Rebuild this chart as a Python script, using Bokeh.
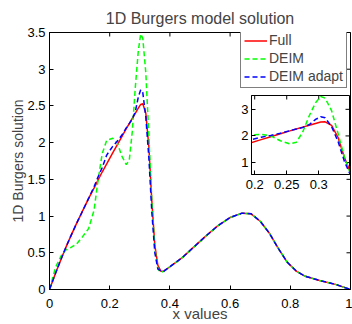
import math
from bokeh.plotting import figure
from bokeh.layouts import column
from bokeh.models import Range1d, LinearAxis, FixedTicker, Legend, LegendItem
from bokeh.embed import file_html
from bokeh.resources import INLINE

# ---------------- data ----------------
x_vals = [0, 0.02, 0.04, 0.055, 0.07, 0.09, 0.11, 0.13, 0.148, 0.16, 0.175,
          0.19, 0.21, 0.225, 0.24, 0.255, 0.265, 0.275, 0.285, 0.295, 0.303,
          0.31, 0.32, 0.33, 0.34, 0.35, 0.36, 0.37, 0.38, 0.40, 0.44, 0.48,
          0.52, 0.56, 0.60, 0.64, 0.67, 0.70, 0.73, 0.76, 0.79, 0.82, 0.85,
          0.90, 0.95, 1.0]
full = [0, 0.22, 0.43, 0.58, 0.72, 0.90, 1.07, 1.24, 1.38, 1.48, 1.60,
        1.71, 1.86, 1.97, 2.08, 2.19, 2.26, 2.33, 2.40, 2.47, 2.52,
        2.53, 2.40, 1.95, 1.20, 0.60, 0.33, 0.25, 0.25, 0.31, 0.43, 0.58,
        0.73, 0.87, 0.98, 1.04, 1.03, 0.93, 0.77, 0.56, 0.37, 0.25, 0.18,
        0.12, 0.07, 0.0]
deim = [0, 0.30, 0.47, 0.54, 0.57, 0.62, 0.72, 0.83, 1.08, 1.45, 1.85,
        2.03, 2.06, 2.00, 1.82, 1.70, 1.76, 2.15, 2.75, 3.25, 3.48,
        3.42, 2.95, 2.10, 1.20, 0.55, 0.28, 0.23, 0.25, 0.31, 0.43, 0.58,
        0.73, 0.87, 0.98, 1.04, 1.03, 0.93, 0.77, 0.56, 0.37, 0.25, 0.18,
        0.12, 0.07, 0.0]
deim_adapt = [0, 0.22, 0.43, 0.58, 0.72, 0.90, 1.07, 1.24, 1.40, 1.52, 1.66,
              1.83, 1.95, 2.02, 2.10, 2.20, 2.26, 2.32, 2.42, 2.62, 2.72,
              2.68, 2.35, 1.80, 1.05, 0.50, 0.28, 0.25, 0.25, 0.31, 0.43, 0.58,
              0.73, 0.87, 0.98, 1.04, 1.03, 0.93, 0.77, 0.56, 0.37, 0.25, 0.18,
              0.12, 0.07, 0.0]

main_xticks = [0, 0.2, 0.4, 0.6, 0.8, 1]
main_xlabels = ["0", "0.2", "0.4", "0.6", "0.8", "1"]
main_yticks = [0, 0.5, 1, 1.5, 2, 2.5, 3, 3.5]
main_ylabels = ["0", "0.5", "1", "1.5", "2", "2.5", "3", "3.5"]
inset_xticks = [0.2, 0.25, 0.3]
inset_xlabels = ["0.2", "0.25", "0.3"]
inset_yticks = [1, 2, 3]
inset_ylabels = ["1", "2", "3"]

series_names = ["Full", "DEIM", "DEIM adapt"]
series_colors = ["#ff0000", "#00ff00", "#0000ff"]
series_dash = ["solid", "5 3", "5 3"]
series_data = [full, deim, deim_adapt]

FONT = "Liberation Sans"


def style_axis(ax, ticks, labels, standoff):
    ax.ticker = FixedTicker(ticks=ticks)
    ax.major_label_overrides = {t: l for t, l in zip(ticks, labels)}
    ax.major_tick_in = 4
    ax.major_tick_out = 0
    ax.minor_tick_line_color = None
    ax.axis_line_color = "black"
    ax.major_tick_line_color = "black"
    ax.major_label_text_font = FONT
    ax.major_label_text_font_size = "13px"
    ax.major_label_text_color = "black"
    ax.major_label_standoff = standoff


def mirror_ticks(fig, xticks, yticks, xr, yr):
    # tick marks on top and right edges (outer half of each dash is clipped by the frame)
    fig.scatter(xticks, [yr.end] * len(xticks), marker="dash", angle=math.pi / 2,
                size=8, line_color="black", line_width=1)
    fig.scatter([xr.end] * len(yticks), yticks, marker="dash", size=8,
                line_color="black", line_width=1)


# ---------------- main figure ----------------
p = figure(width=352, height=324, x_range=Range1d(0, 1), y_range=Range1d(0, 3.5),
           output_backend="svg", toolbar_location=None,
           min_border_left=49, min_border_right=2, min_border_top=32,
           min_border_bottom=32, x_axis_location=None, y_axis_location=None)
p.frame_align = False
p.xgrid.visible = False
p.ygrid.visible = False
p.outline_line_color = "black"
p.outline_line_width = 1
p.background_fill_color = "white"
p.border_fill_color = "white"

p.title.text = "1D Burgers model solution"
p.title.text_font = FONT
p.title.text_font_size = "16px"
p.title.text_font_style = "normal"
p.title.align = "center"
p.title.standoff = 12

xax = LinearAxis()
style_axis(xax, main_xticks, main_xlabels, 9)
xax.axis_label = "x values"
xax.axis_label_text_font = FONT
xax.axis_label_text_font_size = "15px"
xax.axis_label_text_font_style = "normal"
xax.axis_label_standoff = -6
p.add_layout(xax, "below")

yax = LinearAxis()
style_axis(yax, main_yticks, main_ylabels, 4)
yax.axis_label = "1D Burgers solution"
yax.axis_label_text_font = FONT
yax.axis_label_text_font_size = "14px"
yax.axis_label_text_font_style = "normal"
yax.axis_label_standoff = -2
p.add_layout(yax, "left")

mirror_ticks(p, main_xticks, main_yticks, p.x_range, p.y_range)

renderers = []
for name, col, dash, ys in zip(series_names, series_colors, series_dash, series_data):
    r = p.line(x_vals, ys, line_color=col, line_width=1.5, line_dash=dash)
    renderers.append(r)

legend = Legend(items=[LegendItem(label=n, renderers=[r]) for n, r in zip(series_names, renderers)],
                location=(191, 201), orientation="vertical")
legend.label_text_font = FONT
legend.label_text_font_size = "14px"
legend.glyph_width = 23
legend.glyph_height = 15
legend.label_height = 15
legend.spacing = 2
legend.padding = 3
legend.margin = 0
legend.label_standoff = 2
legend.border_line_color = "black"
legend.border_line_width = 1
legend.background_fill_color = "white"
legend.background_fill_alpha = 1
p.add_layout(legend, "center")

# ---------------- inset ----------------
inset = figure(width=115, height=100, x_range=Range1d(0.195, 0.348),
               y_range=Range1d(0.55, 3.52), output_backend="svg",
               toolbar_location=None, min_border_left=16, min_border_right=1,
               min_border_top=1, min_border_bottom=20,
               x_axis_location=None, y_axis_location=None)
inset.frame_align = False
inset.xgrid.visible = False
inset.ygrid.visible = False
inset.outline_line_color = "black"
inset.background_fill_color = "white"
inset.border_fill_alpha = 0
inset.styles = {"position": "absolute", "left": "235px", "top": "94px"}

ixax = LinearAxis()
style_axis(ixax, inset_xticks, inset_xlabels, 5)
inset.add_layout(ixax, "below")
iyax = LinearAxis()
style_axis(iyax, inset_yticks, inset_ylabels, 3)
inset.add_layout(iyax, "left")
mirror_ticks(inset, inset_xticks, inset_yticks, inset.x_range, inset.y_range)

for name, col, dash, ys in zip(series_names, series_colors, series_dash, series_data):
    inset.line(x_vals, ys, line_color=col, line_width=1.5, line_dash=dash)

layout = column(p, inset, styles={"position": "relative"})

open("out.html", "w").write(file_html(layout, INLINE))
